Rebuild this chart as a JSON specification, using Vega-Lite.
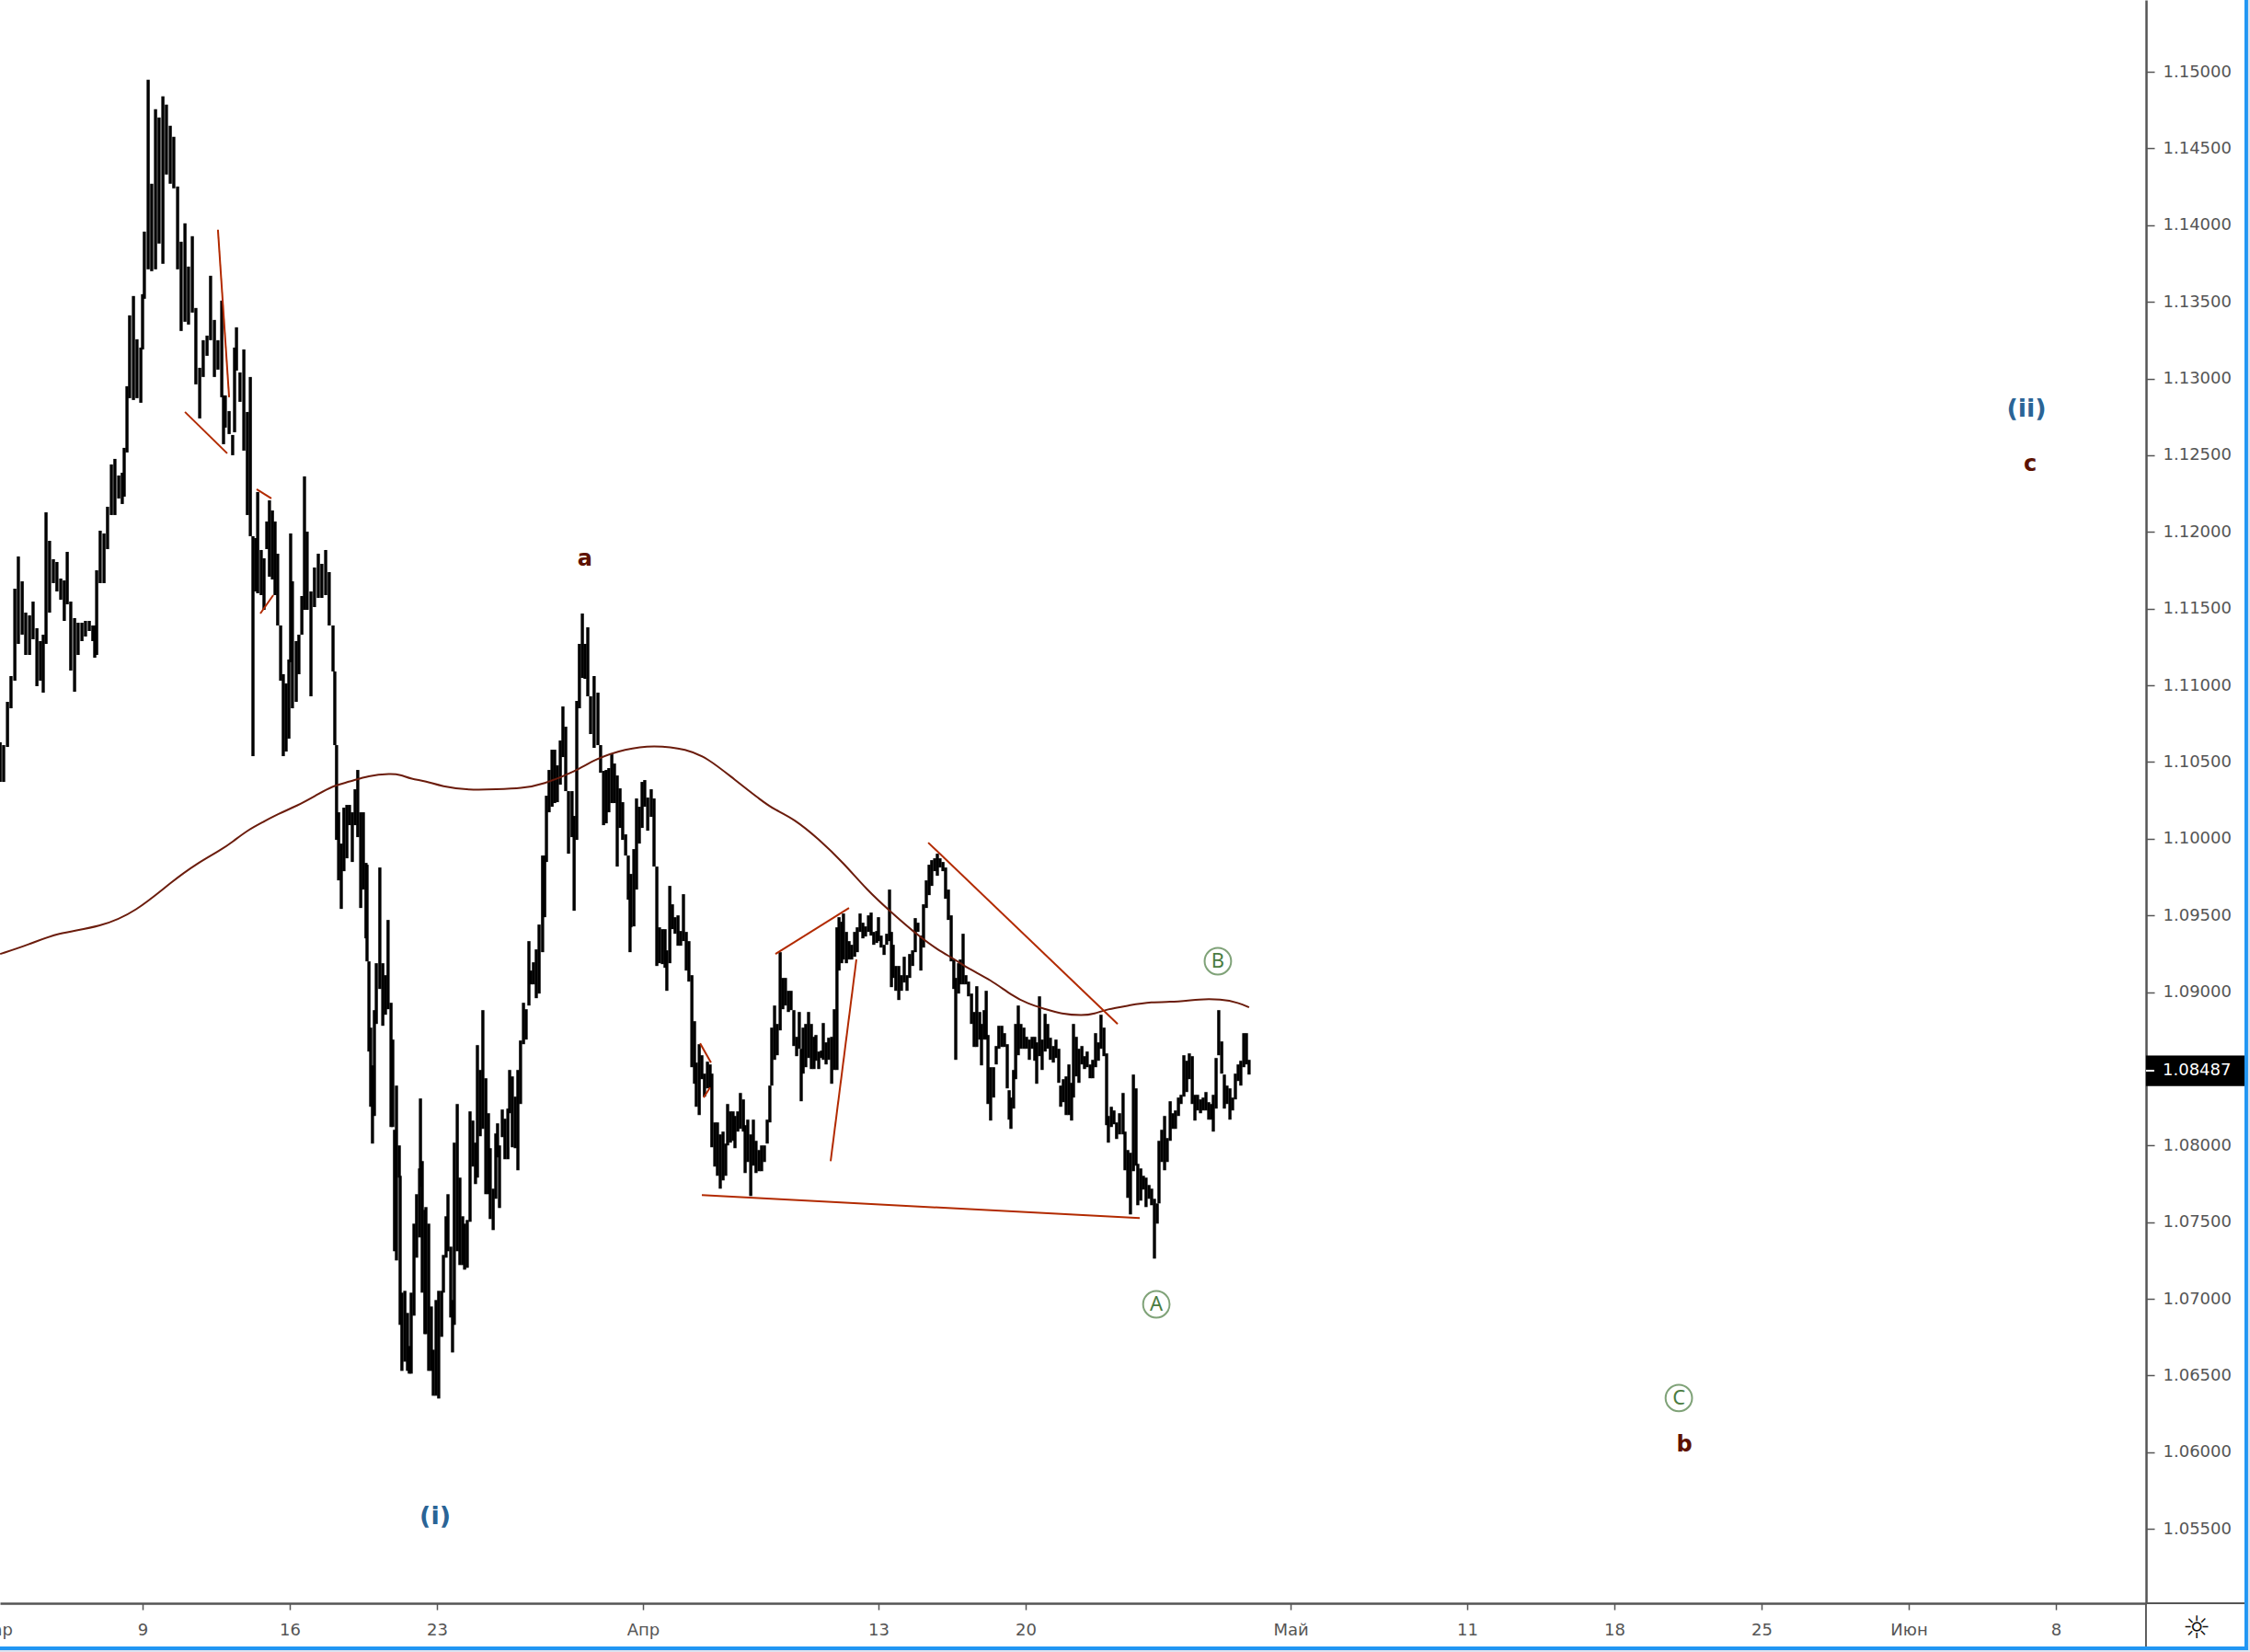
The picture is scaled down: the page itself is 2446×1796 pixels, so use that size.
{"$schema":"https://vega.github.io/schema/vega-lite/v6.json","autosize":"none","padding":{"left":0,"top":0,"right":113,"bottom":53},"width":2333,"height":1743,"background":"#ffffff","view":{"stroke":null},
"resolve":{"scale":{"color":"independent"}},
"datasets":{
"bars":[
{"t":-4.84,"low":1.10370,"high":1.10628},{"t":-4.72,"low":1.10370,"high":1.10610},{"t":-4.59,"low":1.10598,"high":1.10892},{"t":-4.47,"low":1.10850,"high":1.11060},{"t":-4.34,"low":1.11030,"high":1.11630},{"t":-4.22,"low":1.11270,"high":1.11840},{"t":-4.09,"low":1.11330,"high":1.11678},{"t":-3.97,"low":1.11198,"high":1.11474},{"t":-3.84,"low":1.11198,"high":1.11456},{"t":-3.72,"low":1.11300,"high":1.11546},{"t":-3.59,"low":1.10994,"high":1.11372},{"t":-3.47,"low":1.11030,"high":1.11288},{"t":-3.375,"low":1.10952,"high":1.11330},{"t":-3.28,"low":1.11270,"high":1.12128},{"t":-3.16,"low":1.11474,"high":1.11942},{"t":-3.03,"low":1.11666,"high":1.11822},{"t":-2.91,"low":1.11612,"high":1.11804},{"t":-2.78,"low":1.11558,"high":1.11696},{"t":-2.66,"low":1.11420,"high":1.11684},{"t":-2.56,"low":1.11528,"high":1.11870},{"t":-2.44,"low":1.11096,"high":1.11546},{"t":-2.31,"low":1.10958,"high":1.11438},{"t":-2.19,"low":1.11198,"high":1.11408},{"t":-2.06,"low":1.11288,"high":1.11408},{"t":-1.94,"low":1.11318,"high":1.11420},{"t":-1.81,"low":1.11354,"high":1.11420},{"t":-1.69,"low":1.11288,"high":1.11390},{"t":-1.625,"low":1.11180,"high":1.11390},{"t":-1.56,"low":1.11198,"high":1.11750},{"t":-1.44,"low":1.11666,"high":1.12008},{"t":-1.31,"low":1.11666,"high":1.11990},{"t":-1.19,"low":1.11888,"high":1.12164},{"t":-1.06,"low":1.12110,"high":1.12440},{"t":-0.94,"low":1.12110,"high":1.12476},{"t":-0.81,"low":1.12218,"high":1.12368},{"t":-0.69,"low":1.12182,"high":1.12386},{"t":-0.625,"low":1.12230,"high":1.12548},{"t":-0.53,"low":1.12518,"high":1.12950},{"t":-0.44,"low":1.12872,"high":1.13412},{"t":-0.31,"low":1.12860,"high":1.13538},{"t":-0.19,"low":1.12872,"high":1.13256},{"t":-0.06,"low":1.12842,"high":1.13202},{"t":0,"low":1.13190,"high":1.13550},{"t":0.06,"low":1.13520,"high":1.13958},{"t":0.19,"low":1.13712,"high":1.14948},{"t":0.31,"low":1.13700,"high":1.14270},{"t":0.44,"low":1.13712,"high":1.14756},{"t":0.56,"low":1.13880,"high":1.14702},{"t":0.69,"low":1.13748,"high":1.14840},{"t":0.81,"low":1.14330,"high":1.14786},{"t":0.94,"low":1.14270,"high":1.14648},{"t":1.06,"low":1.14240,"high":1.14576},{"t":1.19,"low":1.13712,"high":1.14252},{"t":1.31,"low":1.13310,"high":1.13892},{"t":1.44,"low":1.13370,"high":1.14012},{"t":1.56,"low":1.13352,"high":1.13730},{"t":1.69,"low":1.13430,"high":1.13928},{"t":1.81,"low":1.12962,"high":1.13460},{"t":1.94,"low":1.12740,"high":1.13070},{"t":2.06,"low":1.13010,"high":1.13250},{"t":2.19,"low":1.13148,"high":1.13280},{"t":2.31,"low":1.13250,"high":1.13670},{"t":2.44,"low":1.13010,"high":1.13382},{"t":2.56,"low":1.13058,"high":1.13250},{"t":2.69,"low":1.12878,"high":1.13508},{"t":2.75,"low":1.12572,"high":1.12890},{"t":2.81,"low":1.12680,"high":1.12890},{"t":2.94,"low":1.12638,"high":1.12788},{"t":3.06,"low":1.12500,"high":1.12632},{"t":3.125,"low":1.12650,"high":1.13202},{"t":3.19,"low":1.13052,"high":1.13334},{"t":3.31,"low":1.12848,"high":1.13040},{"t":3.44,"low":1.12530,"high":1.13190},{"t":3.56,"low":1.12110,"high":1.12782},{"t":3.66,"low":1.11972,"high":1.13010},{"t":3.75,"low":1.10538,"high":1.11972},{"t":3.84,"low":1.11612,"high":1.11960},{"t":3.91,"low":1.11600,"high":1.12260},{"t":4.03,"low":1.11588,"high":1.11882},{"t":4.125,"low":1.11492,"high":1.11828},{"t":4.22,"low":1.11888,"high":1.12068},{"t":4.31,"low":1.11708,"high":1.12206},{"t":4.41,"low":1.11690,"high":1.12140},{"t":4.5,"low":1.11588,"high":1.12068},{"t":4.59,"low":1.11390,"high":1.11858},{"t":4.69,"low":1.11030,"high":1.11390},{"t":4.78,"low":1.10538,"high":1.11072},{"t":4.875,"low":1.10568,"high":1.11012},{"t":4.97,"low":1.10652,"high":1.11168},{"t":5.03,"low":1.11150,"high":1.11990},{"t":5.09,"low":1.10850,"high":1.11678},{"t":5.22,"low":1.10892,"high":1.11288},{"t":5.31,"low":1.11072,"high":1.11330},{"t":5.41,"low":1.11330,"high":1.11582},{"t":5.5,"low":1.11492,"high":1.12362},{"t":5.59,"low":1.11492,"high":1.12002},{"t":5.72,"low":1.10928,"high":1.11612},{"t":5.84,"low":1.11510,"high":1.11768},{"t":5.97,"low":1.11570,"high":1.11858},{"t":6.09,"low":1.11570,"high":1.11792},{"t":6.22,"low":1.11588,"high":1.11882},{"t":6.34,"low":1.11390,"high":1.11738},{"t":6.47,"low":1.11090,"high":1.11390},{"t":6.53,"low":1.10610,"high":1.11090},{"t":6.59,"low":1.09992,"high":1.10610},{"t":6.66,"low":1.09728,"high":1.10172},{"t":6.75,"low":1.09542,"high":1.09968},{"t":6.84,"low":1.09788,"high":1.10202},{"t":6.94,"low":1.09872,"high":1.10220},{"t":7.03,"low":1.10088,"high":1.10220},{"t":7.125,"low":1.09848,"high":1.10172},{"t":7.22,"low":1.10088,"high":1.10322},{"t":7.31,"low":1.10010,"high":1.10448},{"t":7.41,"low":1.09548,"high":1.10172},{"t":7.5,"low":1.09668,"high":1.10172},{"t":7.59,"low":1.09350,"high":1.09842},{"t":7.625,"low":1.09200,"high":1.09830},{"t":7.69,"low":1.08612,"high":1.09200},{"t":7.75,"low":1.08252,"high":1.08768},{"t":7.81,"low":1.08012,"high":1.08522},{"t":7.875,"low":1.08192,"high":1.08882},{"t":7.94,"low":1.08792,"high":1.09188},{"t":8.06,"low":1.09020,"high":1.09812},{"t":8.16,"low":1.08780,"high":1.09188},{"t":8.25,"low":1.08852,"high":1.09110},{"t":8.34,"low":1.08888,"high":1.09470},{"t":8.44,"low":1.08120,"high":1.08930},{"t":8.5,"low":1.08120,"high":1.08690},{"t":8.56,"low":1.07310,"high":1.08102},{"t":8.625,"low":1.07250,"high":1.08390},{"t":8.72,"low":1.07790,"high":1.08000},{"t":8.75,"low":1.06830,"high":1.07802},{"t":8.81,"low":1.06530,"high":1.07040},{"t":8.91,"low":1.06590,"high":1.07052},{"t":9.0,"low":1.06530,"high":1.06908},{"t":9.06,"low":1.06512,"high":1.06692},{"t":9.125,"low":1.06512,"high":1.07040},{"t":9.22,"low":1.06890,"high":1.07490},{"t":9.31,"low":1.07268,"high":1.07682},{"t":9.41,"low":1.07400,"high":1.07850},{"t":9.44,"low":1.07730,"high":1.08306},{"t":9.5,"low":1.07040,"high":1.07898},{"t":9.59,"low":1.06770,"high":1.07580},{"t":9.625,"low":1.06770,"high":1.07598},{"t":9.72,"low":1.06530,"high":1.07490},{"t":9.81,"low":1.06530,"high":1.06950},{"t":9.875,"low":1.06368,"high":1.06668},{"t":9.97,"low":1.06368,"high":1.06992},{"t":10.06,"low":1.06350,"high":1.07052},{"t":10.16,"low":1.06752,"high":1.07052},{"t":10.22,"low":1.07040,"high":1.07286},{"t":10.31,"low":1.07268,"high":1.07538},{"t":10.375,"low":1.07310,"high":1.07682},{"t":10.47,"low":1.06878,"high":1.07340},{"t":10.53,"low":1.06650,"high":1.06992},{"t":10.59,"low":1.06830,"high":1.08018},{"t":10.69,"low":1.07310,"high":1.08270},{"t":10.78,"low":1.07220,"high":1.07790},{"t":10.875,"low":1.07220,"high":1.07538},{"t":10.94,"low":1.07190,"high":1.07490},{"t":11.03,"low":1.07202,"high":1.07514},{"t":11.125,"low":1.07502,"high":1.08222},{"t":11.22,"low":1.07862,"high":1.08162},{"t":11.31,"low":1.07748,"high":1.08018},{"t":11.375,"low":1.07790,"high":1.08654},{"t":11.47,"low":1.08060,"high":1.08492},{"t":11.56,"low":1.08108,"high":1.08882},{"t":11.66,"low":1.07682,"high":1.08438},{"t":11.75,"low":1.07682,"high":1.08210},{"t":11.81,"low":1.07520,"high":1.07982},{"t":11.91,"low":1.07448,"high":1.07718},{"t":12.0,"low":1.07652,"high":1.08078},{"t":12.06,"low":1.07922,"high":1.08144},{"t":12.125,"low":1.07592,"high":1.08000},{"t":12.22,"low":1.08054,"high":1.08234},{"t":12.31,"low":1.07910,"high":1.08174},{"t":12.41,"low":1.07910,"high":1.08240},{"t":12.47,"low":1.08210,"high":1.08492},{"t":12.56,"low":1.07988,"high":1.08450},{"t":12.66,"low":1.07982,"high":1.08318},{"t":12.75,"low":1.07838,"high":1.08492},{"t":12.84,"low":1.08270,"high":1.08684},{"t":12.94,"low":1.08660,"high":1.08930},{"t":13.03,"low":1.08690,"high":1.08888},{"t":13.125,"low":1.08912,"high":1.09332},{"t":13.19,"low":1.09050,"high":1.09140},{"t":13.28,"low":1.09050,"high":1.09194},{"t":13.375,"low":1.08960,"high":1.09278},{"t":13.47,"low":1.08990,"high":1.09440},{"t":13.59,"low":1.09260,"high":1.09890},{"t":13.66,"low":1.09488,"high":1.09890},{"t":13.72,"low":1.09848,"high":1.10280},{"t":13.81,"low":1.10172,"high":1.10448},{"t":13.91,"low":1.10208,"high":1.10580},{"t":14.0,"low":1.10232,"high":1.10580},{"t":14.09,"low":1.10238,"high":1.10478},{"t":14.19,"low":1.10352,"high":1.10640},{"t":14.28,"low":1.10532,"high":1.10862},{"t":14.375,"low":1.10310,"high":1.10730},{"t":14.47,"low":1.09902,"high":1.10310},{"t":14.59,"low":1.10010,"high":1.10310},{"t":14.66,"low":1.09530,"high":1.10148},{"t":14.75,"low":1.09992,"high":1.10898},{"t":14.84,"low":1.10850,"high":1.11270},{"t":14.94,"low":1.11048,"high":1.11468},{"t":15.03,"low":1.11042,"high":1.11270},{"t":15.125,"low":1.10928,"high":1.11378},{"t":15.22,"low":1.10682,"high":1.10928},{"t":15.34,"low":1.10592,"high":1.11060},{"t":15.47,"low":1.10610,"high":1.10952},{"t":15.56,"low":1.10430,"high":1.10610},{"t":15.66,"low":1.10088,"high":1.10442},{"t":15.75,"low":1.10100,"high":1.10448},{"t":15.84,"low":1.10172,"high":1.10460},{"t":15.94,"low":1.10232,"high":1.10550},{"t":16.03,"low":1.10232,"high":1.10490},{"t":16.125,"low":1.09818,"high":1.10412},{"t":16.22,"low":1.10070,"high":1.10328},{"t":16.31,"low":1.09992,"high":1.10238},{"t":16.41,"low":1.09890,"high":1.10028},{"t":16.5,"low":1.09602,"high":1.09890},{"t":16.56,"low":1.09260,"high":1.09662},{"t":16.59,"low":1.09422,"high":1.09770},{"t":16.69,"low":1.09428,"high":1.09932},{"t":16.78,"low":1.09668,"high":1.10262},{"t":16.875,"low":1.09968,"high":1.10208},{"t":16.97,"low":1.10070,"high":1.10370},{"t":17.06,"low":1.10208,"high":1.10382},{"t":17.16,"low":1.10052,"high":1.10268},{"t":17.28,"low":1.10142,"high":1.10322},{"t":17.375,"low":1.09818,"high":1.10262},{"t":17.47,"low":1.09170,"high":1.09818},{"t":17.56,"low":1.09188,"high":1.09422},{"t":17.66,"low":1.09182,"high":1.09410},{"t":17.75,"low":1.09158,"high":1.09410},{"t":17.81,"low":1.09008,"high":1.09272},{"t":17.91,"low":1.09188,"high":1.09692},{"t":18.0,"low":1.09410,"high":1.09572},{"t":18.09,"low":1.09380,"high":1.09488},{"t":18.19,"low":1.09302,"high":1.09500},{"t":18.28,"low":1.09302,"high":1.09398},{"t":18.375,"low":1.09332,"high":1.09638},{"t":18.47,"low":1.09140,"high":1.09392},{"t":18.56,"low":1.09068,"high":1.09332},{"t":18.66,"low":1.08510,"high":1.09110},{"t":18.75,"low":1.08402,"high":1.08810},{"t":18.81,"low":1.08252,"high":1.08540},{"t":18.91,"low":1.08198,"high":1.08660},{"t":19.0,"low":1.08432,"high":1.08588},{"t":19.09,"low":1.08318,"high":1.08468},{"t":19.19,"low":1.08372,"high":1.08546},{"t":19.28,"low":1.08372,"high":1.08528},{"t":19.34,"low":1.07988,"high":1.08468},{"t":19.44,"low":1.07862,"high":1.08150},{"t":19.53,"low":1.07802,"high":1.08150},{"t":19.625,"low":1.07718,"high":1.08072},{"t":19.72,"low":1.07772,"high":1.08090},{"t":19.81,"low":1.07802,"high":1.08012},{"t":19.875,"low":1.08000,"high":1.08270},{"t":19.97,"low":1.08018,"high":1.08222},{"t":20.06,"low":1.08030,"high":1.08222},{"t":20.125,"low":1.07982,"high":1.08192},{"t":20.22,"low":1.08090,"high":1.08222},{"t":20.31,"low":1.08108,"high":1.08342},{"t":20.41,"low":1.08090,"high":1.08300},{"t":20.47,"low":1.07820,"high":1.08132},{"t":20.56,"low":1.07892,"high":1.08168},{"t":20.66,"low":1.07670,"high":1.08072},{"t":20.75,"low":1.07868,"high":1.08168},{"t":20.84,"low":1.07820,"high":1.08030},{"t":20.94,"low":1.07832,"high":1.07970},{"t":21.03,"low":1.07832,"high":1.08000},{"t":21.125,"low":1.07892,"high":1.08000},{"t":21.22,"low":1.08012,"high":1.08168},{"t":21.31,"low":1.08150,"high":1.08390},{"t":21.375,"low":1.08390,"high":1.08768},{"t":21.47,"low":1.08558,"high":1.08912},{"t":21.56,"low":1.08588,"high":1.08792},{"t":21.66,"low":1.08750,"high":1.09260},{"t":21.75,"low":1.08888,"high":1.09092},{"t":21.84,"low":1.08912,"high":1.09092},{"t":21.94,"low":1.08870,"high":1.09008},{"t":22.03,"low":1.08882,"high":1.09008},{"t":22.125,"low":1.08648,"high":1.08882},{"t":22.22,"low":1.08582,"high":1.08708},{"t":22.31,"low":1.08630,"high":1.08870},{"t":22.375,"low":1.08288,"high":1.08630},{"t":22.44,"low":1.08468,"high":1.08768},{"t":22.53,"low":1.08510,"high":1.08792},{"t":22.625,"low":1.08570,"high":1.08870},{"t":22.72,"low":1.08498,"high":1.08792},{"t":22.81,"low":1.08498,"high":1.08708},{"t":22.875,"low":1.08552,"high":1.08720},{"t":22.97,"low":1.08498,"high":1.08612},{"t":23.06,"low":1.08570,"high":1.08618},{"t":23.125,"low":1.08558,"high":1.08798},{"t":23.22,"low":1.08528,"high":1.08672},{"t":23.31,"low":1.08558,"high":1.08702},{"t":23.41,"low":1.08402,"high":1.08708},{"t":23.5,"low":1.08492,"high":1.08888},{"t":23.59,"low":1.08492,"high":1.09422},{"t":23.66,"low":1.09140,"high":1.09488},{"t":23.75,"low":1.09188,"high":1.09458},{"t":23.81,"low":1.09212,"high":1.09512},{"t":23.91,"low":1.09188,"high":1.09392},{"t":24.0,"low":1.09212,"high":1.09332},{"t":24.09,"low":1.09212,"high":1.09308},{"t":24.19,"low":1.09230,"high":1.09392},{"t":24.28,"low":1.09260,"high":1.09422},{"t":24.375,"low":1.09392,"high":1.09512},{"t":24.47,"low":1.09350,"high":1.09452},{"t":24.56,"low":1.09362,"high":1.09428},{"t":24.66,"low":1.09392,"high":1.09500},{"t":24.75,"low":1.09368,"high":1.09518},{"t":24.84,"low":1.09308,"high":1.09392},{"t":24.94,"low":1.09320,"high":1.09398},{"t":25.0,"low":1.09332,"high":1.09488},{"t":25.09,"low":1.09290,"high":1.09368},{"t":25.19,"low":1.09242,"high":1.09308},{"t":25.28,"low":1.09308,"high":1.09380},{"t":25.375,"low":1.09332,"high":1.09668},{"t":25.44,"low":1.09032,"high":1.09392},{"t":25.5,"low":1.09092,"high":1.09308},{"t":25.59,"low":1.09008,"high":1.09170},{"t":25.69,"low":1.08948,"high":1.09170},{"t":25.78,"low":1.09008,"high":1.09110},{"t":25.875,"low":1.09062,"high":1.09230},{"t":25.97,"low":1.09008,"high":1.09110},{"t":26.06,"low":1.09092,"high":1.09248},{"t":26.16,"low":1.09170,"high":1.09272},{"t":26.25,"low":1.09260,"high":1.09482},{"t":26.34,"low":1.09392,"high":1.09452},{"t":26.44,"low":1.09140,"high":1.09368},{"t":26.53,"low":1.09290,"high":1.09572},{"t":26.625,"low":1.09548,"high":1.09728},{"t":26.72,"low":1.09632,"high":1.09830},{"t":26.81,"low":1.09692,"high":1.09860},{"t":26.91,"low":1.09788,"high":1.09872},{"t":27.0,"low":1.09758,"high":1.09902},{"t":27.09,"low":1.09812,"high":1.09872},{"t":27.19,"low":1.09788,"high":1.09848},{"t":27.28,"low":1.09608,"high":1.09812},{"t":27.375,"low":1.09470,"high":1.09668},{"t":27.47,"low":1.09200,"high":1.09500},{"t":27.56,"low":1.09020,"high":1.09212},{"t":27.625,"low":1.08558,"high":1.09092},{"t":27.72,"low":1.08990,"high":1.09188},{"t":27.78,"low":1.09050,"high":1.09212},{"t":27.875,"low":1.09050,"high":1.09380},{"t":27.97,"low":1.09050,"high":1.09110},{"t":28.06,"low":1.08972,"high":1.09068},{"t":28.16,"low":1.08792,"high":1.08990},{"t":28.25,"low":1.08642,"high":1.08870},{"t":28.34,"low":1.08642,"high":1.09038},{"t":28.44,"low":1.08690,"high":1.08870},{"t":28.5,"low":1.08522,"high":1.08792},{"t":28.59,"low":1.08690,"high":1.08882},{"t":28.66,"low":1.08690,"high":1.09008},{"t":28.72,"low":1.08270,"high":1.08720},{"t":28.81,"low":1.08162,"high":1.08510},{"t":28.91,"low":1.08312,"high":1.08510},{"t":29.0,"low":1.08528,"high":1.08648},{"t":29.09,"low":1.08630,"high":1.08780},{"t":29.19,"low":1.08642,"high":1.08780},{"t":29.28,"low":1.08642,"high":1.08732},{"t":29.375,"low":1.08372,"high":1.08660},{"t":29.44,"low":1.08168,"high":1.08360},{"t":29.5,"low":1.08108,"high":1.08312},{"t":29.59,"low":1.08240,"high":1.08492},{"t":29.66,"low":1.08432,"high":1.08792},{"t":29.75,"low":1.08588,"high":1.08912},{"t":29.84,"low":1.08630,"high":1.08792},{"t":29.94,"low":1.08630,"high":1.08768},{"t":30.03,"low":1.08630,"high":1.08708},{"t":30.125,"low":1.08558,"high":1.08690},{"t":30.22,"low":1.08630,"high":1.08708},{"t":30.31,"low":1.08552,"high":1.08708},{"t":30.375,"low":1.08402,"high":1.08672},{"t":30.47,"low":1.08582,"high":1.08972},{"t":30.56,"low":1.08492,"high":1.08690},{"t":30.66,"low":1.08612,"high":1.08858},{"t":30.75,"low":1.08630,"high":1.08792},{"t":30.84,"low":1.08558,"high":1.08702},{"t":30.94,"low":1.08540,"high":1.08648},{"t":31.03,"low":1.08570,"high":1.08690},{"t":31.125,"low":1.08408,"high":1.08630},{"t":31.19,"low":1.08252,"high":1.08390},{"t":31.28,"low":1.08282,"high":1.08432},{"t":31.375,"low":1.08198,"high":1.08450},{"t":31.47,"low":1.08198,"high":1.08528},{"t":31.56,"low":1.08162,"high":1.08408},{"t":31.625,"low":1.08312,"high":1.08792},{"t":31.72,"low":1.08450,"high":1.08708},{"t":31.81,"low":1.08408,"high":1.08630},{"t":31.91,"low":1.08528,"high":1.08648},{"t":32.0,"low":1.08498,"high":1.08582},{"t":32.09,"low":1.08510,"high":1.08612},{"t":32.19,"low":1.08438,"high":1.08528},{"t":32.28,"low":1.08438,"high":1.08558},{"t":32.375,"low":1.08510,"high":1.08732},{"t":32.47,"low":1.08552,"high":1.08672},{"t":32.56,"low":1.08630,"high":1.08852},{"t":32.66,"low":1.08582,"high":1.08768},{"t":32.75,"low":1.08132,"high":1.08600},{"t":32.81,"low":1.08018,"high":1.08192},{"t":32.91,"low":1.08120,"high":1.08252},{"t":33.0,"low":1.08138,"high":1.08228},{"t":33.09,"low":1.08042,"high":1.08150},{"t":33.19,"low":1.08072,"high":1.08210},{"t":33.31,"low":1.08072,"high":1.08342},{"t":33.375,"low":1.07838,"high":1.08090},{"t":33.47,"low":1.07658,"high":1.07970},{"t":33.56,"low":1.07550,"high":1.07952},{"t":33.66,"low":1.07832,"high":1.08462},{"t":33.75,"low":1.07868,"high":1.08372},{"t":33.81,"low":1.07610,"high":1.07880},{"t":33.91,"low":1.07640,"high":1.07850},{"t":34.0,"low":1.07712,"high":1.07802},{"t":34.09,"low":1.07598,"high":1.07790},{"t":34.19,"low":1.07652,"high":1.07742},{"t":34.28,"low":1.07610,"high":1.07718},{"t":34.375,"low":1.07262,"high":1.07652},{"t":34.47,"low":1.07490,"high":1.07622},{"t":34.53,"low":1.07622,"high":1.08030},{"t":34.625,"low":1.07892,"high":1.08102},{"t":34.72,"low":1.07838,"high":1.08192},{"t":34.81,"low":1.07892,"high":1.08048},{"t":34.91,"low":1.08030,"high":1.08288},{"t":35.0,"low":1.08108,"high":1.08210},{"t":35.09,"low":1.08108,"high":1.08228},{"t":35.19,"low":1.08192,"high":1.08312},{"t":35.28,"low":1.08270,"high":1.08330},{"t":35.375,"low":1.08318,"high":1.08588},{"t":35.47,"low":1.08348,"high":1.08552},{"t":35.56,"low":1.08432,"high":1.08600},{"t":35.66,"low":1.08270,"high":1.08582},{"t":35.75,"low":1.08162,"high":1.08330},{"t":35.84,"low":1.08228,"high":1.08330},{"t":35.94,"low":1.08210,"high":1.08300},{"t":36.03,"low":1.08228,"high":1.08312},{"t":36.125,"low":1.08228,"high":1.08348},{"t":36.22,"low":1.08168,"high":1.08282},{"t":36.31,"low":1.08168,"high":1.08270},{"t":36.375,"low":1.08090,"high":1.08330},{"t":36.47,"low":1.08240,"high":1.08570},{"t":36.56,"low":1.08588,"high":1.08882},{"t":36.66,"low":1.08468,"high":1.08678},{"t":36.75,"low":1.08240,"high":1.08462},{"t":36.84,"low":1.08270,"high":1.08390},{"t":36.94,"low":1.08168,"high":1.08372},{"t":37.03,"low":1.08228,"high":1.08312},{"t":37.125,"low":1.08300,"high":1.08468},{"t":37.22,"low":1.08420,"high":1.08528},{"t":37.31,"low":1.08390,"high":1.08552},{"t":37.41,"low":1.08510,"high":1.08732},{"t":37.5,"low":1.08528,"high":1.08732},{"t":37.59,"low":1.08462,"high":1.08558}
],
"ma":[
{"t":-4.84,"price":1.09248},{"t":-3.875,"price":1.09308},{"t":-2.91,"price":1.09386},{"t":-1.44,"price":1.09422},{"t":-0.22,"price":1.09524},{"t":1.0,"price":1.09722},{"t":1.875,"price":1.09842},{"t":2.66,"price":1.09926},{"t":3.06,"price":1.09980},{"t":3.59,"price":1.10058},{"t":4.125,"price":1.10112},{"t":4.59,"price":1.10160},{"t":5.25,"price":1.10214},{"t":5.875,"price":1.10280},{"t":6.47,"price":1.10346},{"t":7.03,"price":1.10370},{"t":7.66,"price":1.10412},{"t":8.44,"price":1.10424},{"t":8.75,"price":1.10418},{"t":9.125,"price":1.10388},{"t":9.625,"price":1.10376},{"t":10.16,"price":1.10340},{"t":11.09,"price":1.10316},{"t":12.03,"price":1.10322},{"t":12.875,"price":1.10328},{"t":13.59,"price":1.10352},{"t":14.75,"price":1.10442},{"t":15.375,"price":1.10520},{"t":16.41,"price":1.10586},{"t":17.34,"price":1.10610},{"t":18.5,"price":1.10586},{"t":19.22,"price":1.10520},{"t":19.94,"price":1.10412},{"t":21.09,"price":1.10238},{"t":21.47,"price":1.10190},{"t":22.125,"price":1.10130},{"t":22.97,"price":1.09998},{"t":23.81,"price":1.09842},{"t":24.625,"price":1.09662},{"t":25.375,"price":1.09530},{"t":26.19,"price":1.09392},{"t":27.03,"price":1.09272},{"t":27.56,"price":1.09218},{"t":28.06,"price":1.09152},{"t":28.81,"price":1.09080},{"t":29.53,"price":1.08978},{"t":30.06,"price":1.08924},{"t":30.69,"price":1.08888},{"t":31.19,"price":1.08858},{"t":31.94,"price":1.08846},{"t":32.34,"price":1.08858},{"t":32.75,"price":1.08888},{"t":33.5,"price":1.08912},{"t":34.22,"price":1.08936},{"t":35.25,"price":1.08936},{"t":35.875,"price":1.08954},{"t":36.625,"price":1.08954},{"t":37.25,"price":1.08930},{"t":37.59,"price":1.08900}
],
"trend":[
{"t":2.56,"t2":2.94,"price":1.13970,"price2":1.12878},{"t":1.44,"t2":2.875,"price":1.12782,"price2":1.12512},{"t":3.875,"t2":4.375,"price":1.12278,"price2":1.12218},{"t":4.0,"t2":4.44,"price":1.11468,"price2":1.11588},{"t":18.94,"t2":19.31,"price":1.08666,"price2":1.08540},{"t":19.06,"t2":19.28,"price":1.08312,"price2":1.08378},{"t":19.0,"t2":33.875,"price":1.07676,"price2":1.07526},{"t":21.5,"t2":24.0,"price":1.09248,"price2":1.09548},{"t":23.375,"t2":24.25,"price":1.07898,"price2":1.09212},{"t":26.69,"t2":33.125,"price":1.09974,"price2":1.08792}
],
"frame":[
{"part":"axis","t":68.06,"t2":71.406,"price":1.05021,"price2":1.05009},{"part":"axis","t":68.03,"t2":68.09,"price":1.05015,"price2":1.04733},{"part":"border","t":71.406,"t2":71.53,"price":1.15468,"price2":1.04709},{"part":"border","t":-4.844,"t2":71.53,"price":1.04733,"price2":1.04709},{"part":"edge","t":71.53,"t2":71.6,"price":1.15468,"price2":1.04697},{"part":"edge","t":-4.844,"t2":71.6,"price":1.04709,"price2":1.04697},{"part":"tag","t":68.06,"t2":71.406,"price":1.08587,"price2":1.08387},{"part":"tagtick","t":68.06,"t2":68.34,"price":1.08493,"price2":1.08481}
],
"minor":[
{"t":15.03,"price":1.11822,"label":"a"},{"t":52.375,"price":1.06047,"label":"b"},{"t":64.125,"price":1.12440,"label":"c"}
],
"major":[
{"t":9.94,"price":1.05579,"label":"(i)"},{"t":64.0,"price":1.12799,"label":"(ii)"}
],
"circled":[
{"t":34.44,"price":1.06964,"label":"A"},{"t":36.53,"price":1.09201,"label":"B"},{"t":52.19,"price":1.06353,"label":"C"}
],
"last":[{"t":68.625,"price":1.08487,"label":"1.08487"}],
"clippedTop":[{"t":68.625,"price":1.155,"label":"1.15500"}],
"clipped":[{"t":-5,"price":1.04835,"label":"Мар"}],
"gear":[{"t":69.78,"price":1.04850,"label":"☼"}]
},
"encoding":{
"x":{"field":"t","type":"quantitative","title":null,"scale":{"domain":[-4.84375,68.0625],"nice":false,"zero":false},
"axis":{"values":[0,5,10,17,25,30,39,45,50,55,60,65],"labelExpr":"datum.value==0?'9':datum.value==5?'16':datum.value==10?'23':datum.value==17?'Апр':datum.value==25?'13':datum.value==30?'20':datum.value==39?'Май':datum.value==45?'11':datum.value==50?'18':datum.value==55?'25':datum.value==60?'Июн':'8'","grid":false,"domainColor":"#555555","domainWidth":2.5,"tickColor":"#555555","tickWidth":1.5,"tickSize":7,"labelColor":"#555555","labelFont":"DejaVu Sans","labelFontSize":18,"labelPadding":13,"labelOverlap":false,"labelBound":false,"labelFlush":false}},
"y":{"field":"price","type":"quantitative","title":null,"scale":{"domain":[1.05015,1.15468],"nice":false,"zero":false},
"axis":{"orient":"right","values":[1.055,1.06,1.065,1.07,1.075,1.08,1.085,1.09,1.095,1.1,1.105,1.11,1.115,1.12,1.125,1.13,1.135,1.14,1.145,1.15],"format":".5f","grid":false,"domainColor":"#555555","domainWidth":2.5,"tickColor":"#555555","tickWidth":1.5,"tickSize":9,"labelColor":"#555555","labelFont":"DejaVu Sans","labelFontSize":18,"labelPadding":9,"labelOverlap":false,"labelBound":false,"labelFlush":false}}
},
"layer":[
{"data":{"name":"clipped"},"mark":{"type":"text","font":"DejaVu Sans","fontSize":18,"color":"#555555","baseline":"middle","align":"center"},"encoding":{"text":{"field":"label"}}},
{"data":{"name":"clippedTop"},"mark":{"type":"text","font":"DejaVu Sans","fontSize":18,"color":"#555555","baseline":"middle","align":"left"},"encoding":{"text":{"field":"label"}}},
{"data":{"name":"bars"},"mark":{"type":"rule","color":"#000000","strokeWidth":3.4},"encoding":{"y":{"field":"low","type":"quantitative","title":null,"scale":{"domain":[1.05015,1.15468],"nice":false,"zero":false}},"y2":{"field":"high"}}},
{"data":{"name":"ma"},"mark":{"type":"line","color":"#6b1c0c","strokeWidth":2,"interpolate":"basis"}},
{"data":{"name":"trend"},"mark":{"type":"rule","color":"#b22a00","strokeWidth":2},"encoding":{"x2":{"field":"t2"},"y2":{"field":"price2"}}},
{"data":{"name":"frame"},"mark":{"type":"rect"},"encoding":{"x2":{"field":"t2"},"y2":{"field":"price2"},"color":{"field":"part","type":"nominal","legend":null,"scale":{"domain":["axis","border","edge","tag","tagtick"],"range":["#555555","#2196f3","#dde3ee","#000000","#ffffff"]}}}},
{"data":{"name":"minor"},"mark":{"type":"text","font":"DejaVu Sans","fontWeight":"bold","fontSize":24,"baseline":"middle","align":"center","color":"#5d1200"},"encoding":{"text":{"field":"label"}}},
{"data":{"name":"major"},"mark":{"type":"text","font":"DejaVu Sans","fontWeight":"bold","fontSize":27,"baseline":"middle","align":"center","color":"#2a6496"},"encoding":{"text":{"field":"label"}}},
{"data":{"name":"circled"},"mark":{"type":"point","shape":"circle","filled":false,"size":830,"color":"#4a7c3f","strokeWidth":2}},
{"data":{"name":"circled"},"mark":{"type":"text","font":"Noto Sans","fontSize":22,"color":"#4a7c3f","baseline":"middle","align":"center"},"encoding":{"text":{"field":"label"}}},
{"data":{"name":"last"},"mark":{"type":"text","font":"DejaVu Sans","fontSize":18,"color":"#ffffff","baseline":"middle","align":"left"},"encoding":{"text":{"field":"label"}}},
{"data":{"name":"gear"},"mark":{"type":"text","font":"DejaVu Sans","fontSize":34,"color":"#111111","baseline":"middle","align":"center"},"encoding":{"text":{"field":"label"}}}
]}
